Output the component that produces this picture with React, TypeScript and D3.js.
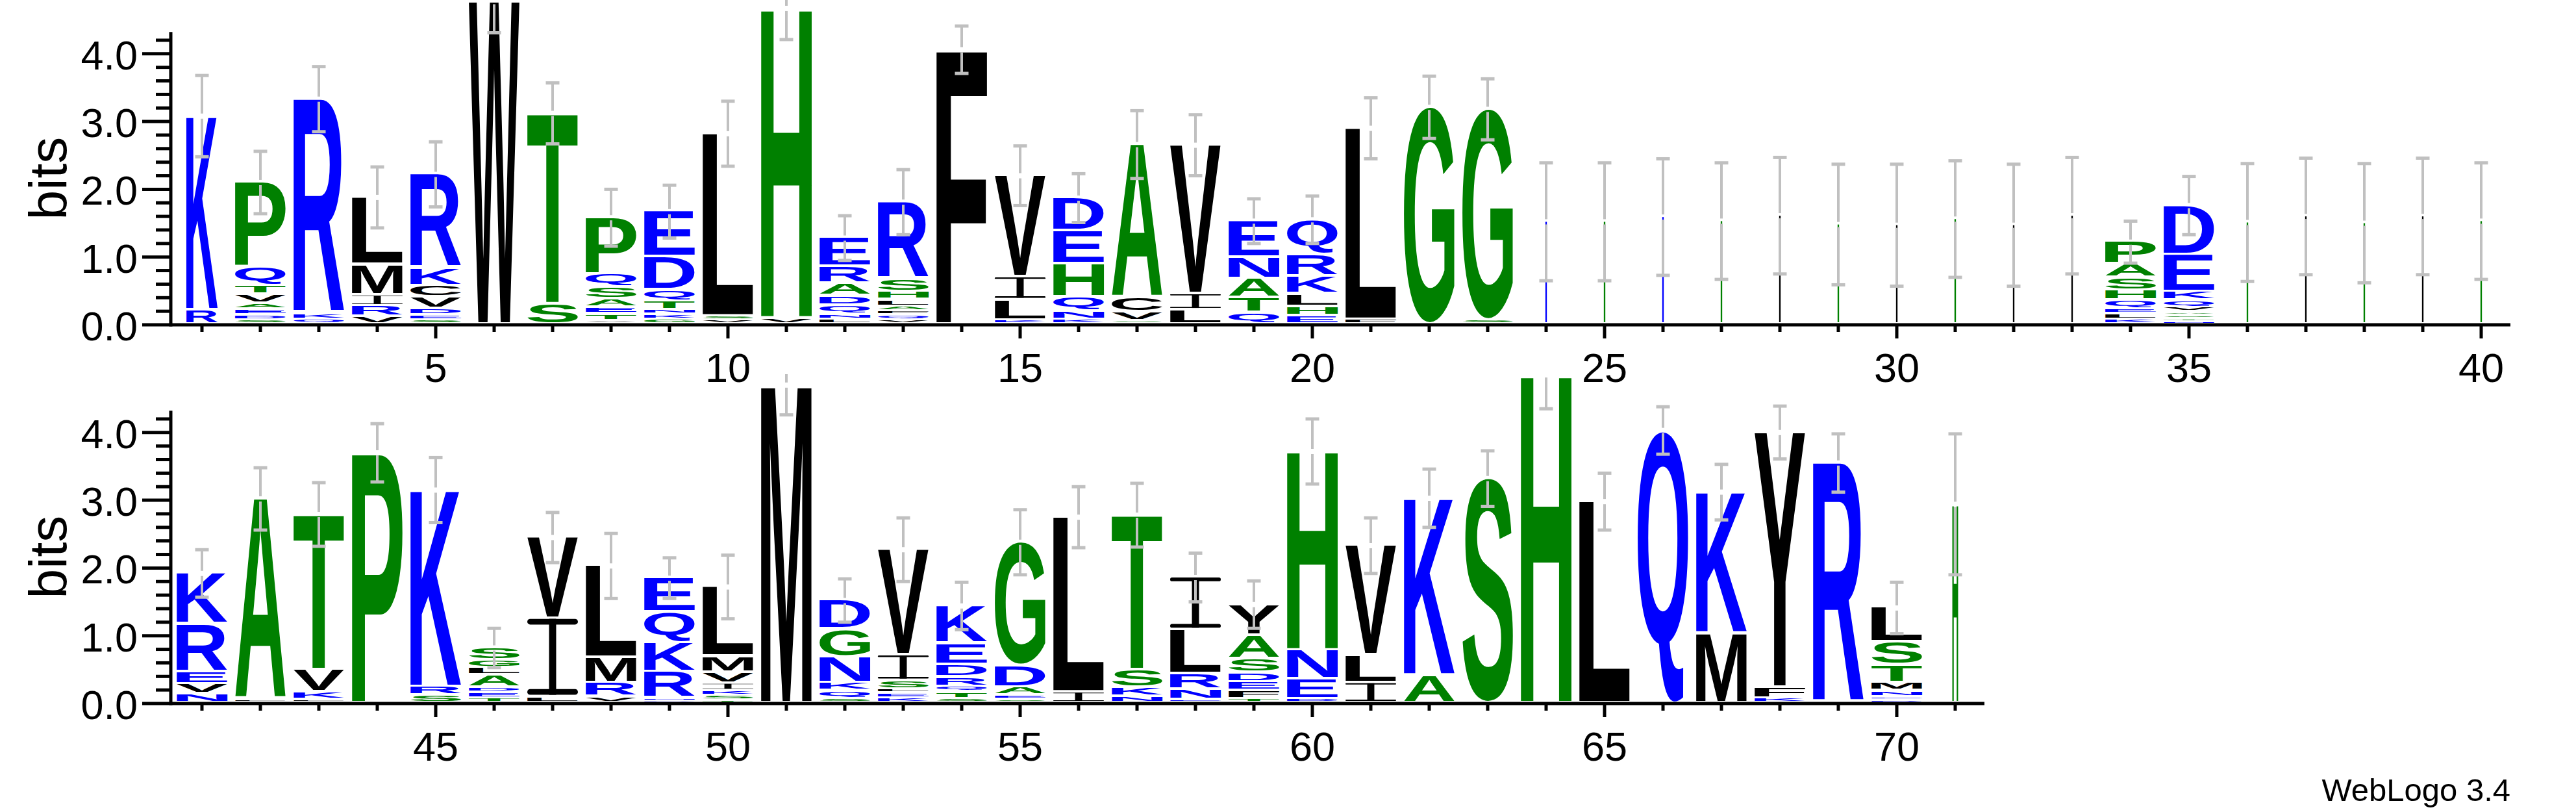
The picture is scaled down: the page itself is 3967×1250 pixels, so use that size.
import React, { useMemo } from "react";
import * as d3 from "d3";

// ---------- DATA ----------
// letters of each stack, top -> bottom (positions 1..71)
const stackLetters: string[] = [
  "KR", "PQTVAEDS", "RKQ", "LMIRV", "RKCVDES", "W", "TS", "PQSAETV", "EDQTNKG", "LSV",
  "HV", "ERADQNL", "RSHLAFQV", "F", "VILK", "DEHQNK", "ACVS", "VIL", "ENATQ", "QRKLHE",
  "LF", "G", "GS", "K", "G", "K", "G", "L", "G", "L",
  "G", "L", "L", "PASHQELK", "DEKQVASTN", "G", "L", "G", "L", "G",
  "KREVN", "AL", "TVKL", "P", "KRS", "SGLADET", "VIL", "LMRV", "EQKRND", "LMVIKST",
  "M", "DGNKQS", "VISLEK", "KEDRQTS", "GDAES", "LI", "TSKN", "ILRNE", "YASDEFT", "HNED",
  "VLI", "KA", "S", "H", "L", "Q", "KM", "YFK", "R", "LSTMNED",
  "H",
];

// information (bits) of each letter, same order as stackLetters
const stackBits: number[][] = [
  [2.87, 0.21], [1.26, 0.27, 0.13, 0.13, 0.09, 0.09, 0.07, 0.06], [3.17, 0.09, 0.07],
  [1.0, 0.45, 0.16, 0.16, 0.11], [1.39, 0.26, 0.17, 0.17, 0.1, 0.07, 0.06], [4.77],
  [2.82, 0.3], [0.84, 0.19, 0.18, 0.12, 0.1, 0.1, 0.05], [0.67, 0.49, 0.17, 0.13, 0.07, 0.07, 0.07],
  [2.7, 0.06, 0.06], [4.58, 0.09], [0.43, 0.25, 0.18, 0.14, 0.14, 0.07, 0.07],
  [1.14, 0.19, 0.12, 0.1, 0.07, 0.06, 0.07, 0.06], [4.06], [1.5, 0.34, 0.3, 0.06],
  [0.49, 0.49, 0.49, 0.21, 0.12, 0.07], [2.27, 0.21, 0.13, 0.05], [2.2, 0.24, 0.21],
  [0.54, 0.32, 0.28, 0.22, 0.17], [0.52, 0.32, 0.26, 0.19, 0.14, 0.12], [2.83, 0.07],
  [3.21], [3.12, 0.06], [1.52], [1.52], [1.59], [1.53], [1.61], [1.48], [1.47],
  [1.56], [1.47], [1.61], [0.33, 0.2, 0.19, 0.15, 0.13, 0.07, 0.08, 0.07],
  [0.73, 0.55, 0.13, 0.1, 0.07, 0.05, 0.05, 0.04, 0.04], [1.51], [1.6], [1.5], [1.6], [1.53],
  [0.75, 0.71, 0.18, 0.15, 0.13], [2.97, 0.05], [2.3, 0.33, 0.11, 0.05], [3.7], [2.91, 0.13, 0.11],
  [0.19, 0.11, 0.11, 0.18, 0.08, 0.08, 0.07], [1.2, 1.16, 0.09], [1.36, 0.37, 0.21, 0.09],
  [0.51, 0.45, 0.43, 0.39, 0.04, 0.03], [1.03, 0.24, 0.16, 0.11, 0.07, 0.07, 0.04], [4.7],
  [0.43, 0.41, 0.38, 0.12, 0.12, 0.06], [1.56, 0.38, 0.13, 0.06, 0.07, 0.07],
  [0.56, 0.31, 0.19, 0.14, 0.08, 0.1, 0.06], [1.83, 0.32, 0.12, 0.06, 0.05], [2.59, 0.16],
  [2.29, 0.26, 0.13, 0.1], [0.78, 0.65, 0.23, 0.15, 0.05], [0.46, 0.35, 0.2, 0.14, 0.13, 0.12, 0.06],
  [2.94, 0.43, 0.29, 0.06], [1.62, 0.41, 0.3], [2.62, 0.41], [3.32], [4.85], [2.98], [4.03],
  [2.09, 1.03], [3.77, 0.16, 0.07], [3.55], [0.51, 0.34, 0.26, 0.12, 0.09, 0.05, 0.04],
  [2.94],
];

// half-length of the error bar at each position (bits)
const errorHalf: number[] = [
  0.6, 0.46, 0.48, 0.45, 0.48, 0.46, 0.45, 0.42, 0.39, 0.48,
  0.46, 0.33, 0.48, 0.35, 0.44, 0.36, 0.5, 0.45, 0.33, 0.35,
  0.45, 0.46, 0.45, 0.87, 0.87, 0.86, 0.86, 0.86, 0.89, 0.9,
  0.86, 0.9, 0.86, 0.31, 0.43, 0.87, 0.86, 0.88, 0.86, 0.86,
  0.35, 0.46, 0.47, 0.43, 0.48, 0.29, 0.37, 0.48, 0.3, 0.47,
  0.44, 0.32, 0.47, 0.35, 0.48, 0.45, 0.47, 0.36, 0.35, 0.48,
  0.41, 0.43, 0.41, 0.5, 0.42, 0.35, 0.41, 0.39, 0.43, 0.38,
  1.04,
];

// fraction of non-gap residues (scales stack width)
const occupancy: number[] = [
  0.62, 1, 1, 1, 1, 1, 1, 1, 1, 1,
  1, 1, 1, 1, 1, 1, 1, 1, 1, 1,
  1, 1, 1, 0.03, 0.03, 0.03, 0.03, 0.03, 0.03, 0.03,
  0.03, 0.03, 0.03, 1, 1, 0.03, 0.03, 0.03, 0.03, 0.03,
  1, 1, 1, 1, 1, 1, 1, 1, 1, 1,
  1, 1, 1, 1, 1, 1, 1, 1, 1, 1,
  1, 1, 1, 1, 1, 1, 1, 1, 1, 1,
  0.115,
];

const rowPositions: [number, number][] = [[1, 40], [41, 71]];
const rowTickLabels: number[][] = [[5, 10, 15, 20, 25, 30, 35, 40], [45, 50, 55, 60, 65, 70]];
const yTickValues: number[] = [0, 1, 2, 3, 4];
const yLabel = "bits";
const credit = "WebLogo 3.4";
const MAX_BITS = Math.log2(20);

const blueLetters = "RKDENQ";
const greenLetters = "SGHTAP";

// ---------- LAYOUT ----------
const W = 3967;
const H = 1250;
const rowBaselines = [500, 1083];
const rowClipTop = [0, 576];
const BIT_PX = 104.3;
const X0 = 266;
const STEP = 90;
const LETTER_W = 78;
const GAP = 4;
const FONT = '"Liberation Sans", Arial, Helvetica, sans-serif';

function colorOf(ch: string) {
  if (blueLetters.includes(ch)) return "#0000ff";
  if (greenLetters.includes(ch)) return "#008000";
  return "#000000";
}

type Metric = { l: number; r: number; a: number; d: number };

function useGlyphMetrics(): Record<string, Metric> {
  return useMemo(() => {
    const out: Record<string, Metric> = {};
    const c = document.createElement("canvas");
    const ctx = c.getContext("2d");
    const letters = "ACDEFGHIKLMNPQRSTVWY";
    for (const ch of letters) {
      let m: Metric = { l: -10, r: 130, a: 143, d: 0 };
      if (ctx) {
        ctx.font = `bold 200px ${FONT}`;
        const t = ctx.measureText(ch);
        if (t.actualBoundingBoxAscent !== undefined && t.actualBoundingBoxRight > 0) {
          m = {
            l: t.actualBoundingBoxLeft,
            r: t.actualBoundingBoxRight,
            a: t.actualBoundingBoxAscent,
            d: t.actualBoundingBoxDescent,
          };
        }
      }
      out[ch] = m;
    }
    return out;
  }, []);
}

function Glyph({ ch, x, y, w, h, m }: { ch: string; x: number; y: number; w: number; h: number; m: Metric }) {
  const fill = colorOf(ch);
  if (h <= 0 || w <= 0) return null;
  if (w < 4) {
    // a stack so narrow that its letter is only a sliver
    return <rect x={x} y={y} width={w} height={h} fill={fill} />;
  }
  if (ch === "I") {
    const t = Math.max(0.5, 0.075 * h);
    const sw = Math.max(1, 0.14 * w);
    return (
      <g fill={fill}>
        <rect x={x} y={y} width={w} height={t} rx={Math.min(t / 2, w / 2)} />
        <rect x={x + w / 2 - sw / 2} y={y} width={sw} height={h} />
        <rect x={x} y={y + h - t} width={w} height={t} rx={Math.min(t / 2, w / 2)} />
      </g>
    );
  }
  const sx = w / (m.l + m.r);
  const sy = h / (m.a + m.d);
  return (
    <text
      transform={`translate(${x + m.l * sx},${y + m.a * sy}) scale(${sx},${sy})`}
      fontFamily={FONT}
      fontWeight="bold"
      fontSize={200}
      fill={fill}
    >
      {ch}
    </text>
  );
}

function Row({ row, metrics }: { row: number; metrics: Record<string, Metric> }) {
  const [p0, p1] = rowPositions[row];
  const base = rowBaselines[row];
  const x = d3.scaleLinear().domain([p0 - 0.5, p0 + 39.5]).range([X0, X0 + 40 * STEP]);
  const y = d3.scaleLinear().domain([0, 1]).range([base, base - BIT_PX]);
  const positions = d3.range(p0, p1 + 1);
  const minorTicks = d3.range(1, 22).map((k) => k * 0.2).filter((v) => Math.abs(v - Math.round(v)) > 1e-6);
  const axisX = X0 - 3;
  const clipId = `rowclip${row}`;

  return (
    <g>
      <defs>
        <clipPath id={clipId}>
          <rect x={0} y={rowClipTop[row]} width={W} height={base + 10 - rowClipTop[row]} />
        </clipPath>
      </defs>
      <g clipPath={`url(#${clipId})`}>
        {/* stacks */}
        {positions.map((p) => {
          const i = p - 1;
          const letters = stackLetters[i];
          const bits = stackBits[i];
          const total = d3.sum(bits);
          const w = LETTER_W * occupancy[i];
          const cx = x(p);
          let cur = total;
          const glyphs = letters.split("").map((ch, k) => {
            const boxTop = y(cur);
            const boxPx = bits[k] * BIT_PX;
            cur -= bits[k];
            const gh = Math.max(boxPx - GAP, boxPx * 0.3);
            return <Glyph key={k} ch={ch} x={cx - w / 2} y={boxTop} w={w} h={gh} m={metrics[ch]} />;
          });
          return <g key={p}>{glyphs}</g>;
        })}
        {/* error bars */}
        {positions.map((p) => {
          const i = p - 1;
          const total = d3.sum(stackBits[i]);
          const cx = x(p);
          const yt = y(total + errorHalf[i]);
          const yb = y(total - errorHalf[i]);
          const yc = y(total);
          return (
            <g key={`e${p}`} stroke="#c0c0c0" fill="none">
              <line x1={cx} x2={cx} y1={yt} y2={yc - 4} strokeWidth={4} />
              <line x1={cx} x2={cx} y1={yc + 4} y2={yb} strokeWidth={4} />
              <line x1={cx - 10.5} x2={cx + 10.5} y1={yt} y2={yt} strokeWidth={5} />
              <line x1={cx - 10.5} x2={cx + 10.5} y1={yb} y2={yb} strokeWidth={5} />
            </g>
          );
        })}
      </g>
      {/* y axis */}
      <g stroke="#000">
        <line x1={axisX} x2={axisX} y1={y(MAX_BITS)} y2={y(0) + 2.5} strokeWidth={5} />
        {yTickValues.map((v) => (
          <line key={`M${v}`} x1={axisX - 44} x2={axisX} y1={y(v)} y2={y(v)} strokeWidth={5} />
        ))}
        {minorTicks.map((v) => (
          <line key={`m${v}`} x1={axisX - 23} x2={axisX} y1={y(v)} y2={y(v)} strokeWidth={5} />
        ))}
      </g>
      {yTickValues.map((v) => (
        <text key={`t${v}`} x={212} y={y(v) + 24} textAnchor="end" fontFamily={FONT} fontSize={63} fill="#000">
          {v.toFixed(1)}
        </text>
      ))}
      <text
        transform={`translate(102,${(y(0) + y(MAX_BITS)) / 2}) rotate(-90)`}
        textAnchor="middle"
        fontFamily={FONT}
        fontSize={82}
        fill="#000"
      >
        {yLabel}
      </text>
      {/* x axis */}
      <g stroke="#000">
        <line x1={axisX} x2={x(p1 + 0.5)} y1={base} y2={base} strokeWidth={5} />
        {positions.map((p) => (
          <line
            key={`x${p}`}
            x1={x(p)}
            x2={x(p)}
            y1={base}
            y2={base + (rowTickLabels[row].includes(p) ? 21 : 11)}
            strokeWidth={5}
          />
        ))}
      </g>
      {rowTickLabels[row].map((v) => (
        <text key={`xl${v}`} x={x(v)} y={base + 88} textAnchor="middle" fontFamily={FONT} fontSize={63} fill="#000">
          {v}
        </text>
      ))}
    </g>
  );
}

export default function App() {
  const metrics = useGlyphMetrics();
  return (
    <svg
      width={W}
      height={H}
      viewBox={`0 0 ${W} ${H}`}
      style={{ position: "absolute", left: 0, top: 0, background: "#fff" }}
    >
      <rect x={0} y={0} width={W} height={H} fill="#fff" />
      <Row row={0} metrics={metrics} />
      <Row row={1} metrics={metrics} />
      <text x={3866} y={1233} textAnchor="end" fontFamily={FONT} fontSize={49} fill="#000">
        {credit}
      </text>
    </svg>
  );
}
